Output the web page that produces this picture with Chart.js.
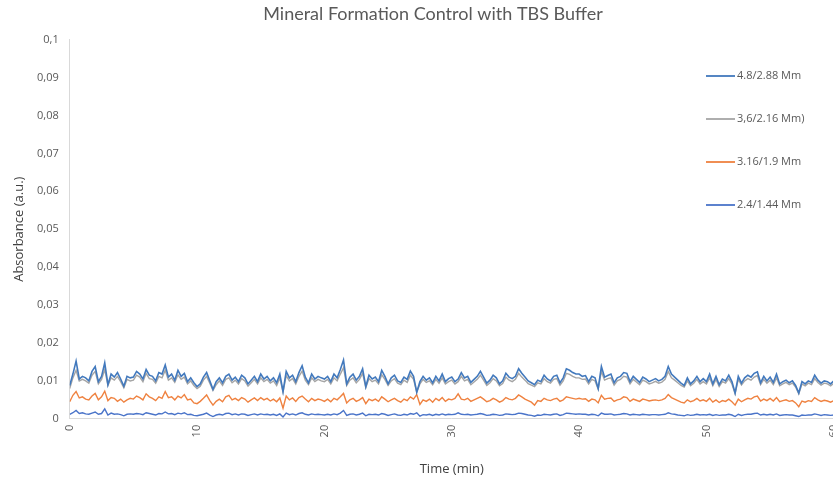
<!DOCTYPE html>
<html>
<head>
<meta charset="utf-8">
<title>Mineral Formation Control with TBS Buffer</title>
<script src="https://cdn.jsdelivr.net/npm/chart.js@4"></script>
<style>
  html, body { margin: 0; padding: 0; background: #fff; overflow: hidden; }
  #wrap { position: relative; width: 853px; height: 481px; }
</style>
</head>
<body>
<div id="wrap"><canvas id="myChart"></canvas></div>
<script>
// sampling every 15 s, 0 to 60 min
const times = Array.from({ length: 241 }, (_, i) => i * 0.25);

const seriesNames = ['4.8/2.88 Mm', '3,6/2.16 Mm)', '3.16/1.9 Mm', '2.4/1.44 Mm'];

const abs48 = [
  0.0088, 0.0118, 0.0152, 0.0105, 0.0112, 0.0108, 0.0100, 0.0125, 0.0138, 0.0098,
  0.0112, 0.0148, 0.0090, 0.0118, 0.0110, 0.0122, 0.0105, 0.0086, 0.0112, 0.0108,
  0.0110, 0.0125, 0.0118, 0.0105, 0.0130, 0.0115, 0.0112, 0.0100, 0.0122, 0.0118,
  0.0142, 0.0110, 0.0118, 0.0102, 0.0128, 0.0112, 0.0120, 0.0098, 0.0108, 0.0095,
  0.0085, 0.0092, 0.0110, 0.0122, 0.0100, 0.0078, 0.0098, 0.0108, 0.0095, 0.0112,
  0.0118, 0.0102, 0.0110, 0.0098, 0.0115, 0.0108, 0.0092, 0.0102, 0.0112, 0.0098,
  0.0118, 0.0105, 0.0112, 0.0100, 0.0108, 0.0095, 0.0118, 0.0072, 0.0125, 0.0108,
  0.0115, 0.0098, 0.0122, 0.0140, 0.0110, 0.0095, 0.0118, 0.0105, 0.0112, 0.0108,
  0.0105, 0.0112, 0.0098, 0.0118, 0.0108, 0.0130, 0.0155, 0.0092, 0.0110, 0.0118,
  0.0102, 0.0112, 0.0132, 0.0085, 0.0115, 0.0105, 0.0110, 0.0098, 0.0128, 0.0112,
  0.0092, 0.0108, 0.0115, 0.0100, 0.0096, 0.0110, 0.0104, 0.0126, 0.0112, 0.0070,
  0.0098, 0.0112, 0.0102, 0.0108, 0.0095, 0.0112, 0.0100, 0.0118, 0.0098, 0.0106,
  0.0110, 0.0098, 0.0105, 0.0122, 0.0108, 0.0112, 0.0096, 0.0104, 0.0112, 0.0125,
  0.0110, 0.0094, 0.0102, 0.0115, 0.0108, 0.0092, 0.0100, 0.0120, 0.0110, 0.0106,
  0.0112, 0.0132, 0.0120, 0.0110, 0.0100, 0.0095, 0.0090, 0.0102, 0.0098, 0.0115,
  0.0105, 0.0100, 0.0112, 0.0115, 0.0095, 0.0108, 0.0132, 0.0128, 0.0122, 0.0118,
  0.0118, 0.0112, 0.0114, 0.0098, 0.0112, 0.0108, 0.0080, 0.0138, 0.0110, 0.0114,
  0.0118, 0.0095, 0.0108, 0.0112, 0.0122, 0.0120, 0.0098, 0.0112, 0.0104, 0.0096,
  0.0110, 0.0105, 0.0098, 0.0102, 0.0106, 0.0100, 0.0104, 0.0112, 0.0138, 0.0118,
  0.0110, 0.0102, 0.0094, 0.0088, 0.0108, 0.0092, 0.0100, 0.0112, 0.0098, 0.0106,
  0.0098, 0.0118, 0.0092, 0.0112, 0.0090, 0.0105, 0.0100, 0.0115, 0.0098, 0.0068,
  0.0112, 0.0094, 0.0108, 0.0115, 0.0110, 0.0120, 0.0124, 0.0095, 0.0112, 0.0100,
  0.0110, 0.0096, 0.0118, 0.0092, 0.0098, 0.0102, 0.0095, 0.0100, 0.0088, 0.0068,
  0.0098, 0.0092, 0.0100, 0.0096, 0.0115, 0.0102, 0.0094, 0.0100, 0.0098, 0.0092,
  0.0100
];

const abs36 = [
  0.0080, 0.0108, 0.0128, 0.0100, 0.0104, 0.0100, 0.0094, 0.0115, 0.0125, 0.0092,
  0.0104, 0.0130, 0.0088, 0.0108, 0.0102, 0.0112, 0.0098, 0.0082, 0.0104, 0.0100,
  0.0102, 0.0115, 0.0110, 0.0098, 0.0120, 0.0106, 0.0104, 0.0094, 0.0112, 0.0108,
  0.0128, 0.0102, 0.0108, 0.0096, 0.0116, 0.0104, 0.0110, 0.0092, 0.0100, 0.0088,
  0.0080, 0.0086, 0.0102, 0.0112, 0.0094, 0.0075, 0.0090, 0.0100, 0.0088, 0.0104,
  0.0108, 0.0095, 0.0102, 0.0092, 0.0106, 0.0100, 0.0086, 0.0095, 0.0104, 0.0092,
  0.0108, 0.0098, 0.0104, 0.0094, 0.0100, 0.0088, 0.0108, 0.0070, 0.0114, 0.0100,
  0.0106, 0.0092, 0.0112, 0.0126, 0.0102, 0.0090, 0.0108, 0.0098, 0.0104, 0.0100,
  0.0098, 0.0104, 0.0092, 0.0108, 0.0100, 0.0118, 0.0135, 0.0088, 0.0102, 0.0108,
  0.0095, 0.0104, 0.0120, 0.0082, 0.0106, 0.0098, 0.0102, 0.0092, 0.0116, 0.0104,
  0.0088, 0.0100, 0.0106, 0.0094, 0.0090, 0.0102, 0.0096, 0.0115, 0.0104, 0.0070,
  0.0092, 0.0104, 0.0096, 0.0100, 0.0090, 0.0104, 0.0094, 0.0108, 0.0092, 0.0098,
  0.0102, 0.0092, 0.0098, 0.0112, 0.0100, 0.0104, 0.0090, 0.0097, 0.0104, 0.0115,
  0.0102, 0.0088, 0.0095, 0.0106, 0.0100, 0.0087, 0.0093, 0.0110, 0.0102, 0.0098,
  0.0104, 0.0120, 0.0110, 0.0102, 0.0093, 0.0089, 0.0085, 0.0095, 0.0092, 0.0106,
  0.0098, 0.0094, 0.0104, 0.0106, 0.0089, 0.0100, 0.0120, 0.0117, 0.0112, 0.0108,
  0.0108, 0.0104, 0.0105, 0.0092, 0.0104, 0.0100, 0.0078, 0.0125, 0.0102, 0.0106,
  0.0108, 0.0089, 0.0100, 0.0104, 0.0112, 0.0110, 0.0092, 0.0104, 0.0097, 0.0090,
  0.0102, 0.0098, 0.0092, 0.0095, 0.0099, 0.0094, 0.0097, 0.0104, 0.0125, 0.0108,
  0.0102, 0.0095, 0.0088, 0.0084, 0.0100, 0.0087, 0.0094, 0.0104, 0.0092, 0.0098,
  0.0092, 0.0108, 0.0087, 0.0104, 0.0085, 0.0098, 0.0094, 0.0106, 0.0092, 0.0066,
  0.0104, 0.0089, 0.0100, 0.0106, 0.0102, 0.0110, 0.0114, 0.0090, 0.0104, 0.0094,
  0.0102, 0.0090, 0.0108, 0.0087, 0.0092, 0.0096, 0.0090, 0.0094, 0.0084, 0.0066,
  0.0092, 0.0087, 0.0094, 0.0090, 0.0106, 0.0096, 0.0089, 0.0094, 0.0092, 0.0087,
  0.0094
];

const abs316 = [
  0.0045, 0.0062, 0.0072, 0.0055, 0.0058, 0.0052, 0.0050, 0.0060, 0.0067, 0.0050,
  0.0058, 0.0073, 0.0048, 0.0056, 0.0054, 0.0046, 0.0052, 0.0044, 0.0050, 0.0054,
  0.0052, 0.0060, 0.0056, 0.0050, 0.0066, 0.0058, 0.0054, 0.0048, 0.0058, 0.0054,
  0.0072, 0.0056, 0.0058, 0.0050, 0.0060, 0.0055, 0.0064, 0.0050, 0.0052, 0.0042,
  0.0040, 0.0046, 0.0054, 0.0063, 0.0048, 0.0036, 0.0046, 0.0052, 0.0045, 0.0058,
  0.0062, 0.0050, 0.0054, 0.0048, 0.0056, 0.0052, 0.0044, 0.0050, 0.0055, 0.0048,
  0.0056, 0.0050, 0.0054, 0.0047, 0.0052, 0.0045, 0.0055, 0.0028, 0.0060, 0.0050,
  0.0055, 0.0046, 0.0056, 0.0060, 0.0052, 0.0045, 0.0054, 0.0048, 0.0052, 0.0050,
  0.0046, 0.0052, 0.0045, 0.0054, 0.0050, 0.0058, 0.0067, 0.0042, 0.0050, 0.0054,
  0.0046, 0.0050, 0.0056, 0.0040, 0.0052, 0.0048, 0.0052, 0.0046, 0.0058, 0.0052,
  0.0045, 0.0050, 0.0054, 0.0048, 0.0044, 0.0052, 0.0048, 0.0058, 0.0052, 0.0064,
  0.0038, 0.0050, 0.0046, 0.0052, 0.0044, 0.0054, 0.0048, 0.0056, 0.0046, 0.0052,
  0.0050, 0.0054, 0.0066, 0.0052, 0.0050, 0.0054, 0.0046, 0.0050, 0.0054, 0.0058,
  0.0052, 0.0045, 0.0048, 0.0054, 0.0050, 0.0044, 0.0048, 0.0056, 0.0052, 0.0050,
  0.0054, 0.0063, 0.0058, 0.0052, 0.0048, 0.0044, 0.0036, 0.0048, 0.0046, 0.0054,
  0.0050, 0.0048, 0.0052, 0.0054, 0.0046, 0.0050, 0.0058, 0.0056, 0.0054, 0.0052,
  0.0054, 0.0052, 0.0053, 0.0046, 0.0052, 0.0050, 0.0042, 0.0062, 0.0052, 0.0054,
  0.0055, 0.0046, 0.0050, 0.0052, 0.0058, 0.0056, 0.0046, 0.0052, 0.0049, 0.0046,
  0.0052, 0.0050, 0.0047, 0.0049, 0.0050, 0.0048, 0.0050, 0.0054, 0.0064, 0.0056,
  0.0052, 0.0048, 0.0044, 0.0042, 0.0050, 0.0045, 0.0048, 0.0054, 0.0047, 0.0050,
  0.0046, 0.0054, 0.0044, 0.0050, 0.0043, 0.0048, 0.0046, 0.0052, 0.0045, 0.0036,
  0.0052, 0.0045, 0.0050, 0.0054, 0.0052, 0.0058, 0.0060, 0.0047, 0.0052, 0.0048,
  0.0054, 0.0047, 0.0056, 0.0045, 0.0048, 0.0050, 0.0046, 0.0048, 0.0042, 0.0032,
  0.0047, 0.0044, 0.0048, 0.0046, 0.0056, 0.0050, 0.0046, 0.0049, 0.0047, 0.0044,
  0.0048
];

const abs24 = [
  0.0012, 0.0016, 0.0022, 0.0014, 0.0016, 0.0013, 0.0012, 0.0015, 0.0018, 0.0012,
  0.0014, 0.0026, 0.0010, 0.0015, 0.0012, 0.0013, 0.0011, 0.0008, 0.0012, 0.0013,
  0.0012, 0.0014, 0.0013, 0.0011, 0.0016, 0.0014, 0.0012, 0.0010, 0.0014, 0.0013,
  0.0018, 0.0013, 0.0014, 0.0011, 0.0015, 0.0013, 0.0016, 0.0011, 0.0012, 0.0009,
  0.0008, 0.0010, 0.0012, 0.0015, 0.0010, 0.0006, 0.0010, 0.0012, 0.0010, 0.0014,
  0.0015, 0.0011, 0.0013, 0.0010, 0.0013, 0.0012, 0.0009, 0.0011, 0.0013, 0.0010,
  0.0013, 0.0011, 0.0012, 0.0010, 0.0012, 0.0009, 0.0013, 0.0005, 0.0015, 0.0011,
  0.0013, 0.0010, 0.0014, 0.0016, 0.0012, 0.0010, 0.0013, 0.0011, 0.0012, 0.0011,
  0.0010, 0.0012, 0.0010, 0.0013, 0.0011, 0.0015, 0.0022, 0.0009, 0.0012, 0.0013,
  0.0010, 0.0012, 0.0015, 0.0008, 0.0012, 0.0011, 0.0012, 0.0010, 0.0014, 0.0012,
  0.0009, 0.0011, 0.0013, 0.0010, 0.0009, 0.0012, 0.0010, 0.0014, 0.0012, 0.0016,
  0.0007, 0.0011, 0.0010, 0.0012, 0.0009, 0.0012, 0.0010, 0.0013, 0.0010, 0.0012,
  0.0011, 0.0012, 0.0016, 0.0012, 0.0011, 0.0012, 0.0010, 0.0011, 0.0012, 0.0014,
  0.0012, 0.0009, 0.0010, 0.0012, 0.0011, 0.0009, 0.0010, 0.0013, 0.0012, 0.0011,
  0.0012, 0.0015, 0.0014, 0.0012, 0.0010, 0.0009, 0.0007, 0.0010, 0.0009, 0.0012,
  0.0011, 0.0010, 0.0012, 0.0013, 0.0009, 0.0011, 0.0015, 0.0014, 0.0013, 0.0012,
  0.0013, 0.0012, 0.0012, 0.0010, 0.0012, 0.0011, 0.0008, 0.0015, 0.0012, 0.0012,
  0.0013, 0.0010, 0.0011, 0.0012, 0.0014, 0.0013, 0.0010, 0.0012, 0.0011, 0.0010,
  0.0012, 0.0011, 0.0010, 0.0011, 0.0011, 0.0010, 0.0011, 0.0012, 0.0016, 0.0013,
  0.0012, 0.0010, 0.0009, 0.0008, 0.0011, 0.0009, 0.0010, 0.0012, 0.0010, 0.0011,
  0.0010, 0.0012, 0.0009, 0.0011, 0.0009, 0.0010, 0.0010, 0.0012, 0.0010, 0.0006,
  0.0012, 0.0009, 0.0011, 0.0012, 0.0012, 0.0014, 0.0015, 0.0010, 0.0012, 0.0010,
  0.0012, 0.0010, 0.0013, 0.0009, 0.0010, 0.0011, 0.0010, 0.0010, 0.0008, 0.0006,
  0.0010, 0.0009, 0.0010, 0.0010, 0.0013, 0.0011, 0.0009, 0.0011, 0.0010, 0.0009,
  0.0010
];

const xTicks = [0, 10, 20, 30, 40, 50, 60];
const yTicks = [0, 0.01, 0.02, 0.03, 0.04, 0.05, 0.06, 0.07, 0.08, 0.09, 0.1];
const yTickLabels = ['0', '0,01', '0,02', '0,03', '0,04', '0,05', '0,06', '0,07', '0,08', '0,09', '0,1'];

const lineColors = ['#4279bd', '#a5a5a5', '#ef8240', '#4a74c9'];
const lineWidths = [1.6, 1.4, 1.4, 1.4];

const allSeries = [abs48, abs36, abs316, abs24];

const datasets = allSeries.map(function (values, s) {
  return {
    label: seriesNames[s],
    data: values.map(function (v, i) { return { x: times[i], y: v }; }),
    borderColor: lineColors[s],
    backgroundColor: lineColors[s],
    borderWidth: lineWidths[s],
    pointRadius: 0,
    tension: 0,
    fill: false
  };
});

const textGrey = '#595959';

// legend drawn over the plot, like the original
const sideLegend = {
  id: 'sideLegend',
  afterDraw(chart) {
    const ctx = chart.ctx;
    ctx.save();
    ctx.font = '11px "Open Sans"';
    ctx.textBaseline = 'middle';
    ctx.textAlign = 'left';
    chart.data.datasets.forEach(function (ds, i) {
      const y = 76 + i * 43;
      ctx.strokeStyle = ds.borderColor;
      ctx.lineWidth = 1.8;
      ctx.beginPath();
      ctx.moveTo(706, y);
      ctx.lineTo(735, y);
      ctx.stroke();
      ctx.fillStyle = textGrey;
      ctx.fillText(ds.label, 737, y);
    });
    ctx.restore();
  }
};

const config = {
  type: 'line',
  data: { datasets: datasets },
  options: {
    responsive: true,
    maintainAspectRatio: false,
    animation: false,
    layout: { padding: { left: 13, right: 0, top: 0, bottom: 4 } },
    plugins: {
      legend: { display: false },
      tooltip: { enabled: false },
      title: {
        display: true,
        text: 'Mineral Formation Control with TBS Buffer',
        color: textGrey,
        font: { family: 'Lato', size: 18, weight: 'normal' },
        padding: { top: 3, bottom: 15 }
      }
    },
    scales: {
      x: {
        type: 'linear',
        min: 0,
        max: 60,
        afterBuildTicks: function (axis) {
          axis.ticks = xTicks.map(function (v) { return { value: v }; });
        },
        grid: { display: false, drawTicks: false },
        border: { display: true, color: '#d9d9d9', width: 1 },
        ticks: {
          color: textGrey,
          font: { family: 'Open Sans', size: 11 },
          minRotation: 90,
          maxRotation: 90,
          padding: 6,
          autoSkip: false
        },
        title: {
          display: true,
          text: 'Time (min)',
          color: '#404040',
          font: { family: 'Open Sans', size: 13 },
          padding: { top: 18, bottom: 0 }
        }
      },
      y: {
        min: 0,
        max: 0.1,
        afterBuildTicks: function (axis) {
          axis.ticks = yTicks.map(function (v) { return { value: v }; });
        },
        grid: { display: false, drawTicks: false },
        border: { display: true, color: '#d9d9d9', width: 1 },
        ticks: {
          color: textGrey,
          font: { family: 'Open Sans', size: 11 },
          padding: 11,
          callback: function (value, index) { return yTickLabels[index]; }
        },
        title: {
          display: true,
          text: 'Absorbance (a.u.)',
          color: '#404040',
          font: { family: 'Open Sans', size: 13, lineHeight: 1 },
          padding: { top: 0, bottom: 0 }
        }
      }
    }
  },
  plugins: [sideLegend]
};

const myChart = new Chart(document.getElementById('myChart'), config);
</script>
</body>
</html>
